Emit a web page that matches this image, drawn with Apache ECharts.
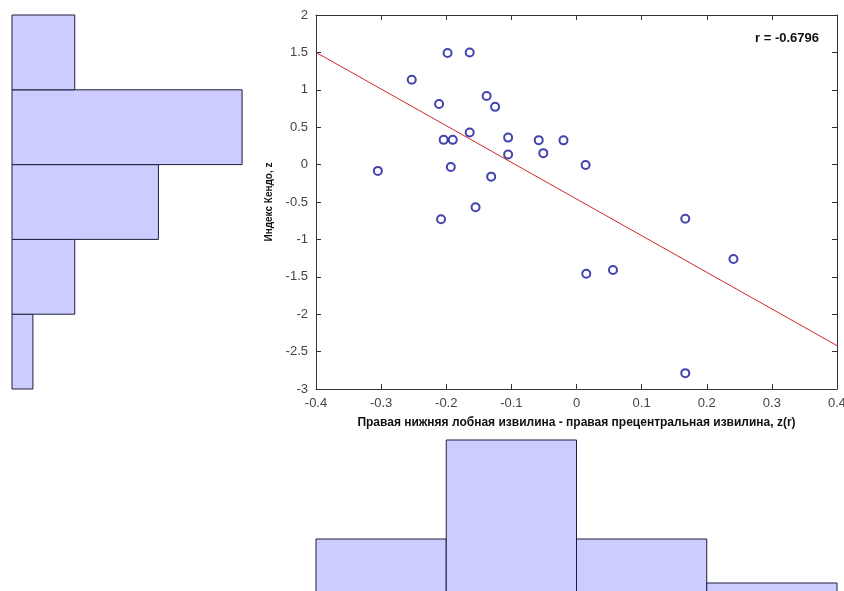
<!DOCTYPE html>
<html><head><meta charset="utf-8">
<script src="https://cdn.jsdelivr.net/npm/echarts@6/dist/echarts.min.js"></script>
<style>html,body{margin:0;padding:0;background:#fff}#c{width:844px;height:591px}</style>
</head><body><div id="c"></div>
<script>
// Scatter points (x: z(r), y: Kendo index z)
const xValues = [-0.305, -0.253, -0.211, -0.208, -0.204, -0.198, -0.190, -0.193, -0.164, -0.164, -0.155, -0.138, -0.131, -0.125, -0.105, -0.105, -0.058, -0.051, -0.020, 0.014, 0.015, 0.056, 0.167, 0.167, 0.241];
const yValues = [-0.084, 1.134, 0.809, -0.731, 0.331, 1.491, 0.331, -0.031, 1.499, 0.428, -0.570, 0.916, -0.161, 0.772, 0.361, 0.134, 0.327, 0.153, 0.324, -0.005, -1.459, -1.410, -0.723, -2.788, -1.262];
// Fitted regression line end points
const fitLineX = [-0.4, 0.4];
const fitLineY = [1.5, -2.42];
// Histograms
const xBinEdges = [-0.4, -0.2, 0, 0.2, 0.4];
const xBinCounts = [5, 14, 5, 1];
const yBinEdges = [-3, -2, -1, 0, 1, 2];
const yBinCounts = [1, 3, 7, 11, 3];
// Texts
const rLabel = 'r = -0.6796';
const xLabel = 'Правая нижняя лобная извилина - правая прецентральная извилина, z(r)';
const yLabel = 'Индекс Кендо, z';
const xRange = [-0.4, 0.4], xStep = 0.1;
const yRange = [-3, 2], yStep = 0.5;

const scatterData = xValues.map((x, i) => [x, yValues[i]]);
const lineData = fitLineX.map((x, i) => [x, fitLineY[i]]);
const xHist = xBinCounts.map((c, i) => [xBinEdges[i], xBinEdges[i + 1], c]);
const yHist = yBinCounts.map((c, i) => [yBinEdges[i], yBinEdges[i + 1], c]);

const FONT = '"Liberation Sans", Arial, sans-serif';
const axisCol = '#333';
const G = { left: 316, top: 15, width: 521, height: 374 };

const chart = echarts.init(document.getElementById('c'), null, { renderer: 'canvas' });
const barStyle = { fill: '#ccccff', stroke: '#1e1e3c', lineWidth: 1 };

chart.setOption({
  animation: false,
  backgroundColor: '#fff',
  grid: [
    { left: G.left, top: G.top, width: G.width, height: G.height, outerBoundsMode: 'none', containLabel: false },
    { left: 12, top: G.top, width: 251, height: G.height, outerBoundsMode: 'none', containLabel: false },
    { left: G.left, top: 418, width: G.width, height: 176, outerBoundsMode: 'none', containLabel: false }
  ],
  xAxis: [
    { gridIndex: 0, type: 'value', min: xRange[0], max: xRange[1], interval: xStep,
      name: xLabel, nameLocation: 'middle', nameGap: 28,
      nameTextStyle: { fontFamily: FONT, fontSize: 12, fontWeight: 'bold', color: '#111' },
      axisLine: { onZero: false, lineStyle: { color: axisCol } },
      axisTick: { inside: true, length: 5, lineStyle: { color: axisCol } },
      axisLabel: { margin: 8, fontFamily: FONT, fontSize: 13, color: '#444' },
      splitLine: { show: false } },
    { gridIndex: 0, type: 'value', position: 'top', min: xRange[0], max: xRange[1], interval: xStep,
      axisLine: { onZero: false, lineStyle: { color: axisCol } },
      axisTick: { inside: true, length: 5, lineStyle: { color: axisCol } },
      axisLabel: { show: false }, splitLine: { show: false } },
    { gridIndex: 1, type: 'value', min: 0, max: 12, show: false },
    { gridIndex: 2, type: 'value', min: xRange[0], max: xRange[1], show: false }
  ],
  yAxis: [
    { gridIndex: 0, type: 'value', min: yRange[0], max: yRange[1], interval: yStep,
      name: yLabel, nameLocation: 'middle', nameGap: 41, nameRotate: 90,
      nameTextStyle: { fontFamily: FONT, fontSize: 10, fontWeight: 'bold', color: '#111' },
      axisLine: { onZero: false, lineStyle: { color: axisCol } },
      axisTick: { inside: true, length: 5, lineStyle: { color: axisCol } },
      axisLabel: { margin: 8, fontFamily: FONT, fontSize: 13, color: '#444' },
      splitLine: { show: false } },
    { gridIndex: 0, type: 'value', position: 'right', min: yRange[0], max: yRange[1], interval: yStep,
      axisLine: { onZero: false, lineStyle: { color: axisCol } },
      axisTick: { inside: true, length: 5, lineStyle: { color: axisCol } },
      axisLabel: { show: false }, splitLine: { show: false } },
    { gridIndex: 1, type: 'value', min: yRange[0], max: yRange[1], show: false },
    { gridIndex: 2, type: 'value', min: 0, max: 16, show: false }
  ],
  series: [
    { type: 'line', xAxisIndex: 0, yAxisIndex: 0, data: lineData, showSymbol: false,
      lineStyle: { color: '#d02828', width: 1 }, z: 3 },
    { type: 'scatter', xAxisIndex: 0, yAxisIndex: 0, data: scatterData,
      symbol: 'emptyCircle', symbolSize: 8,
      itemStyle: { color: '#14149a', borderWidth: 1 }, z: 4 },
    { type: 'custom', xAxisIndex: 2, yAxisIndex: 2, data: yHist, encode: { x: 2, y: [0, 1] },
      renderItem: (params, api) => {
        const p0 = api.coord([0, api.value(0)]);
        const p1 = api.coord([api.value(2), api.value(1)]);
        return { type: 'rect', shape: { x: p0[0], y: p1[1], width: p1[0] - p0[0], height: p0[1] - p1[1] }, style: barStyle };
      } },
    { type: 'custom', xAxisIndex: 3, yAxisIndex: 3, data: xHist, encode: { x: [0, 1], y: 2 },
      clip: false,
      renderItem: (params, api) => {
        const p0 = api.coord([api.value(0), 0]);
        const p1 = api.coord([api.value(1), api.value(2)]);
        return { type: 'rect', shape: { x: p0[0], y: p1[1], width: p1[0] - p0[0], height: p0[1] - p1[1] }, style: barStyle };
      } }
  ],
  graphic: [
    { type: 'text', right: 844 - 819, top: 32,
      style: { text: rLabel, fontFamily: FONT, fontSize: 13, fontWeight: 'bold', fill: '#111' } }
  ]
});
</script>
</body></html>
